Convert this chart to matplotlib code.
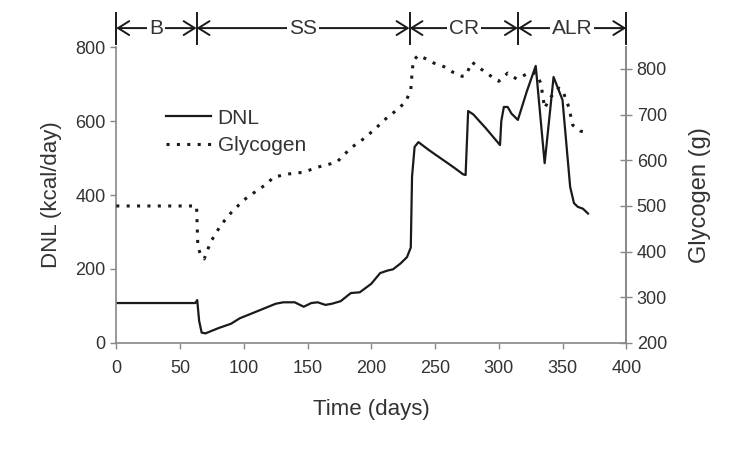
import matplotlib.pyplot as plt
from matplotlib.lines import Line2D

plt.rcParams['font.family'] = ['Liberation Sans', 'DejaVu Sans']

# DNL (kcal/day), eixo esquerdo
dnl_dias = [0, 62, 63.5, 65, 67, 70, 80, 90, 97, 105, 115, 125, 131, 140, 147, 153, 158,
            164, 169, 176, 184, 191, 200, 207, 213, 217, 223, 228, 231, 232, 234, 237,
            245, 255, 265, 272, 274, 276, 280, 290, 301, 302, 304, 307, 310, 315, 322,
            329, 336, 343, 350, 356, 359, 362, 366, 370]
dnl = [108, 108, 116, 60, 28, 26, 40, 52, 67, 78, 92, 106, 110, 110, 98, 108, 110,
       103, 106, 113, 135, 137, 160, 189, 196, 199, 215, 232, 258, 450, 530, 543,
       522, 498, 474, 456, 454, 627, 618, 580, 535, 600, 638, 638, 620, 603, 680,
       749, 486, 719, 657, 422, 378, 368, 363, 350]

# Glicogênio (g), eixo direito
gli_dias = [0, 63, 64, 66, 69, 74, 82, 90, 100, 110, 119, 123, 135, 147, 158, 165, 173,
            184, 193, 202, 211, 220, 227, 231, 232, 233, 237, 243, 249, 257, 264, 271,
            274, 279, 286, 293, 300, 307, 314, 322, 329, 333, 336, 340, 347, 350, 355,
            358, 364, 370]
glicogenio = [500, 500, 410, 395, 384, 421, 458, 485, 513, 533, 550, 563, 570, 574, 585,
              590, 596, 627, 645, 666, 690, 710, 728, 754, 791, 819, 830, 822, 813, 805,
              793, 784, 785, 815, 800, 786, 773, 791, 778, 789, 791, 769, 714, 736, 758,
              754, 716, 677, 664, 660]

# Fases do experimento
fases = ['B', 'SS', 'CR', 'ALR']
limites = [0, 63, 230, 315, 400]

cinza = '#888888'
texto = '#333333'
linha = '#1a1a1a'
pontilhado = (0, (1, 2.4))

fig = plt.figure(figsize=(7.5, 4.62), dpi=100)
ax = fig.add_axes([0.155, 0.2576, 0.68, 0.6406])
ax2 = ax.twinx()

ax.plot(dnl_dias, dnl, color=linha, lw=1.6)
ax2.plot(gli_dias, glicogenio, color=linha, lw=2.2, linestyle=pontilhado)

ax.set_xlim(0, 400)
ax.set_ylim(0, 800)
ax2.set_ylim(200, 848)
ax.set_xticks(range(0, 401, 50))
ax.set_yticks(range(0, 801, 200))
ax2.set_yticks(range(200, 801, 100))

for a in (ax, ax2):
    a.spines['top'].set_visible(False)
    for s in a.spines.values():
        s.set_color(cinza)
        s.set_linewidth(1.2)
ax2.spines['left'].set_visible(False)
ax2.spines['bottom'].set_visible(False)

ax.tick_params(axis='both', colors=cinza, labelcolor=texto, labelsize=13, length=4, width=1)
ax.tick_params(axis='x', pad=8)
ax2.tick_params(axis='y', direction='inout', colors=cinza, labelcolor=texto, labelsize=13,
                length=8, width=1)

ax.set_xlabel('Time (days)', fontsize=16, color=texto, labelpad=16)
ax.set_ylabel('DNL (kcal/day)', fontsize=16, color=texto, labelpad=10)
ax2.set_ylabel('Glycogen (g)', fontsize=17, color=texto, labelpad=16)

handles = [Line2D([], [], color=linha, lw=1.6),
           Line2D([], [], color=linha, lw=2.2, linestyle=pontilhado)]
ax.legend(handles, ['DNL', 'Glycogen'], loc='upper left', bbox_to_anchor=(0.06, 0.855),
          frameon=False, fontsize=15, handlelength=2.2, handletextpad=0.3,
          labelspacing=0.4, labelcolor=texto)

# Setas das fases acima do gráfico
yf = 1.064
seta = dict(arrowstyle='->,head_length=0.8,head_width=0.5', color=linha, lw=1.4,
            shrinkA=0, shrinkB=0)
for i, nome in enumerate(fases):
    x0, x1 = limites[i], limites[i + 1]
    meio = (x0 + x1) / 2
    for alvo in (x0, x1):
        ax.annotate('', xy=(alvo, yf), xytext=(meio, yf),
                    xycoords=('data', 'axes fraction'), textcoords=('data', 'axes fraction'),
                    arrowprops=seta, annotation_clip=False)
    ax.text(meio, yf, nome, transform=ax.get_xaxis_transform(), ha='center',
            va='center', fontsize=15, color=texto,
            bbox=dict(facecolor='white', edgecolor='none', pad=1.5))
for x in limites:
    ax.plot([x, x], [1.01, 1.115], transform=ax.get_xaxis_transform(), color=linha, lw=1.4,
            clip_on=False)

fig.savefig('out.png', dpi=100)
